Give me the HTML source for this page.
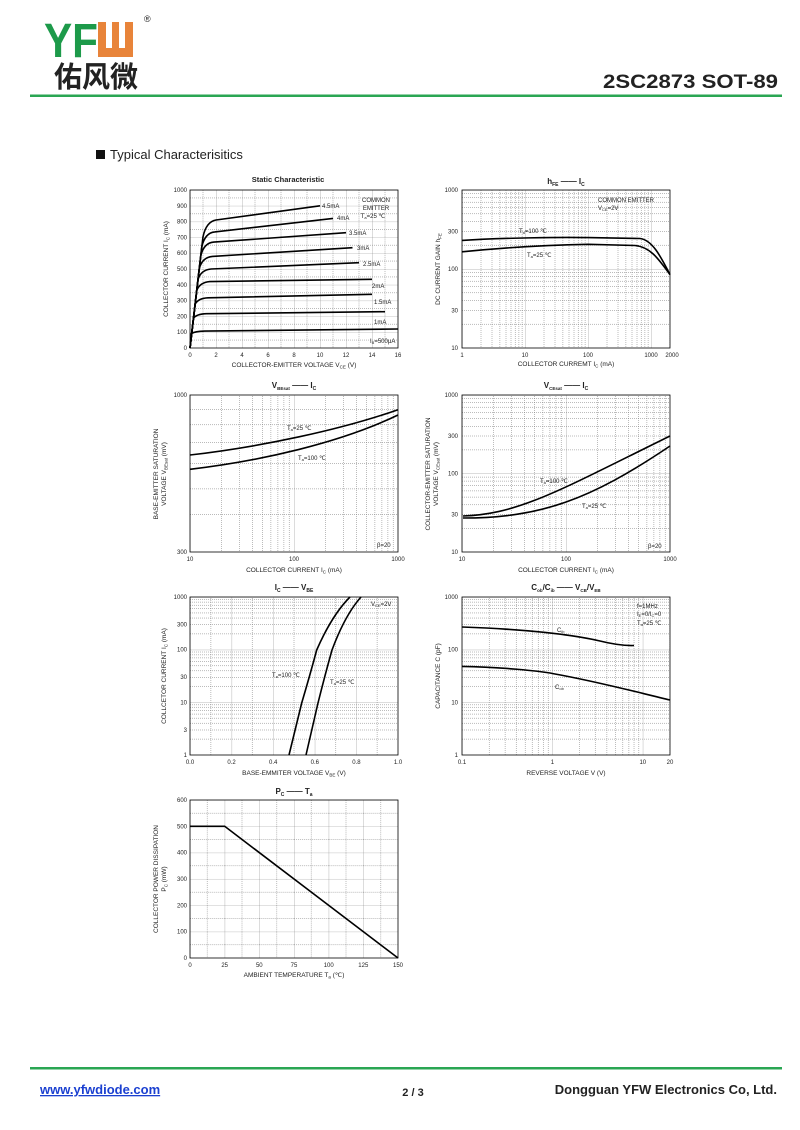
<!DOCTYPE html>
<html><head><meta charset="utf-8"><style>
html,body{margin:0;padding:0;background:#fff;}
svg{display:block;}
text{font-family:"Liberation Sans",Arial,sans-serif;fill:#222;}
.t{font-size:6px;}
.tk{font-size:6px;}
.ax{font-size:6.5px;}
.cv{fill:none;stroke:#000;stroke-width:1.6;}
.bd{fill:none;stroke:#000;stroke-width:0.8;}
.sg{stroke:#888;stroke-width:0.6;}
.dg{stroke:#777;stroke-width:0.5;stroke-dasharray:1,1;}
</style></head><body>
<svg width="800" height="1130" viewBox="0 0 800 1130" xmlns="http://www.w3.org/2000/svg">
<defs>
<pattern id="p1" x="190" y="190" width="26" height="15.8" patternUnits="userSpaceOnUse">
<line x1="0" y1="0" x2="0" y2="15.8" class="sg"/><line x1="13" y1="0" x2="13" y2="15.8" class="dg"/>
<line x1="0" y1="0" x2="26" y2="0" class="sg"/><line x1="0" y1="7.9" x2="26" y2="7.9" class="dg"/>
</pattern>
<pattern id="x63" x="462" y="0" width="63" height="10" patternUnits="userSpaceOnUse">
<line x1="0" y1="0" x2="0" y2="10" class="sg"/>
<g class="dg"><line x1="19" y1="0" x2="19" y2="10"/><line x1="30" y1="0" x2="30" y2="10"/><line x1="37.9" y1="0" x2="37.9" y2="10"/><line x1="44" y1="0" x2="44" y2="10"/><line x1="49" y1="0" x2="49" y2="10"/><line x1="53.2" y1="0" x2="53.2" y2="10"/><line x1="56.9" y1="0" x2="56.9" y2="10"/><line x1="60.1" y1="0" x2="60.1" y2="10"/></g>
</pattern>
<pattern id="x104a" x="190" y="0" width="104" height="10" patternUnits="userSpaceOnUse">
<line x1="0" y1="0" x2="0" y2="10" class="sg"/>
<g class="dg"><line x1="31.3" y1="0" x2="31.3" y2="10"/><line x1="49.6" y1="0" x2="49.6" y2="10"/><line x1="62.6" y1="0" x2="62.6" y2="10"/><line x1="72.7" y1="0" x2="72.7" y2="10"/><line x1="80.9" y1="0" x2="80.9" y2="10"/><line x1="87.9" y1="0" x2="87.9" y2="10"/><line x1="93.9" y1="0" x2="93.9" y2="10"/><line x1="99.2" y1="0" x2="99.2" y2="10"/></g>
</pattern>
<pattern id="x104b" x="462" y="0" width="104" height="10" patternUnits="userSpaceOnUse">
<line x1="0" y1="0" x2="0" y2="10" class="sg"/>
<g class="dg"><line x1="31.3" y1="0" x2="31.3" y2="10"/><line x1="49.6" y1="0" x2="49.6" y2="10"/><line x1="62.6" y1="0" x2="62.6" y2="10"/><line x1="72.7" y1="0" x2="72.7" y2="10"/><line x1="80.9" y1="0" x2="80.9" y2="10"/><line x1="87.9" y1="0" x2="87.9" y2="10"/><line x1="93.9" y1="0" x2="93.9" y2="10"/><line x1="99.2" y1="0" x2="99.2" y2="10"/></g>
</pattern>
<pattern id="x90" x="462" y="0" width="90.4" height="10" patternUnits="userSpaceOnUse">
<line x1="0" y1="0" x2="0" y2="10" class="sg"/>
<g class="dg"><line x1="27.2" y1="0" x2="27.2" y2="10"/><line x1="43.1" y1="0" x2="43.1" y2="10"/><line x1="54.4" y1="0" x2="54.4" y2="10"/><line x1="63.2" y1="0" x2="63.2" y2="10"/><line x1="70.3" y1="0" x2="70.3" y2="10"/><line x1="76.4" y1="0" x2="76.4" y2="10"/><line x1="81.6" y1="0" x2="81.6" y2="10"/><line x1="86.3" y1="0" x2="86.3" y2="10"/></g>
</pattern>
<pattern id="y79" x="0" y="190" width="10" height="79" patternUnits="userSpaceOnUse">
<line x1="0" y1="0" x2="10" y2="0" class="sg"/>
<g class="dg"><line x1="0" y1="3.6" x2="10" y2="3.6"/><line x1="0" y1="7.7" x2="10" y2="7.7"/><line x1="0" y1="12.2" x2="10" y2="12.2"/><line x1="0" y1="17.5" x2="10" y2="17.5"/><line x1="0" y1="23.8" x2="10" y2="23.8"/><line x1="0" y1="31.4" x2="10" y2="31.4"/><line x1="0" y1="41.3" x2="10" y2="41.3"/><line x1="0" y1="55.2" x2="10" y2="55.2"/></g>
</pattern>
<pattern id="y785" x="0" y="395" width="10" height="78.5" patternUnits="userSpaceOnUse">
<line x1="0" y1="0" x2="10" y2="0" class="sg"/>
<g class="dg"><line x1="0" y1="3.6" x2="10" y2="3.6"/><line x1="0" y1="7.6" x2="10" y2="7.6"/><line x1="0" y1="12.2" x2="10" y2="12.2"/><line x1="0" y1="17.4" x2="10" y2="17.4"/><line x1="0" y1="23.6" x2="10" y2="23.6"/><line x1="0" y1="31.3" x2="10" y2="31.3"/><line x1="0" y1="41" x2="10" y2="41"/><line x1="0" y1="54.9" x2="10" y2="54.9"/></g>
</pattern>
<pattern id="y527" x="0" y="597" width="10" height="52.7" patternUnits="userSpaceOnUse">
<line x1="0" y1="0" x2="10" y2="0" class="sg"/>
<g class="dg"><line x1="0" y1="2.4" x2="10" y2="2.4"/><line x1="0" y1="5.1" x2="10" y2="5.1"/><line x1="0" y1="8.2" x2="10" y2="8.2"/><line x1="0" y1="11.7" x2="10" y2="11.7"/><line x1="0" y1="15.9" x2="10" y2="15.9"/><line x1="0" y1="21" x2="10" y2="21"/><line x1="0" y1="27.6" x2="10" y2="27.6"/><line x1="0" y1="36.8" x2="10" y2="36.8"/></g>
</pattern>
<pattern id="x5" x="190" y="0" width="41.6" height="10" patternUnits="userSpaceOnUse">
<line x1="0" y1="0" x2="0" y2="10" class="sg"/><line x1="20.8" y1="0" x2="20.8" y2="10" class="dg"/>
</pattern>
<pattern id="p7" x="190" y="800" width="34.67" height="26.33" patternUnits="userSpaceOnUse">
<line x1="0" y1="0" x2="0" y2="26.33" class="sg"/><line x1="17.33" y1="0" x2="17.33" y2="26.33" class="dg"/>
<line x1="0" y1="0" x2="34.67" y2="0" class="sg"/><line x1="0" y1="13.17" x2="34.67" y2="13.17" class="dg"/>
</pattern>
</defs>

<!-- HEADER -->
<text x="44" y="57" font-size="48" font-weight="bold" style="fill:#1d9a4a" textLength="54" lengthAdjust="spacingAndGlyphs">YF</text>
<rect x="98" y="22" width="35" height="35" fill="#e8843a"/>
<rect x="106" y="22" width="6" height="26" fill="#fff"/>
<rect x="119" y="22" width="6" height="26" fill="#fff"/>
<text x="144" y="22" font-size="9">®</text>
<text x="54" y="87" font-size="29" style="font-family:'Noto Sans CJK SC','WenQuanYi Zen Hei',sans-serif;fill:#222;font-weight:bold" textLength="84" lengthAdjust="spacingAndGlyphs">佑风微</text>
<text x="603" y="88" font-size="19" font-weight="bold" textLength="175" lengthAdjust="spacingAndGlyphs">2SC2873  SOT-89</text>
<rect x="30" y="94.5" width="752" height="2.5" fill="#2aa653"/>
<rect x="96" y="150" width="9" height="9" fill="#111"/>
<text x="110" y="159" font-size="13">Typical  Characterisitics</text>

<!-- CHART 1 -->
<text x="288" y="182" font-size="7.5" font-weight="bold" text-anchor="middle">Static Characteristic</text>
<rect x="190" y="190" width="208" height="158" fill="url(#p1)"/>
<rect x="190" y="190" width="208" height="158" class="bd"/>
<g class="tk" text-anchor="end">
<text x="187" y="350">0</text><text x="187" y="334">100</text><text x="187" y="318.5">200</text><text x="187" y="302.6">300</text><text x="187" y="286.8">400</text><text x="187" y="271">500</text><text x="187" y="255.2">600</text><text x="187" y="239.4">700</text><text x="187" y="223.6">800</text><text x="187" y="207.8">900</text><text x="187" y="192">1000</text>
</g>
<g class="tk" text-anchor="middle">
<text x="190" y="357">0</text><text x="216" y="357">2</text><text x="242" y="357">4</text><text x="268" y="357">6</text><text x="294" y="357">8</text><text x="320" y="357">10</text><text x="346" y="357">12</text><text x="372" y="357">14</text><text x="398" y="357">16</text>
</g>
<text x="294" y="367" class="ax" text-anchor="middle">COLLECTOR-EMITTER VOLTAGE   V<tspan font-size="4.5" dy="1.5">CE</tspan><tspan dy="-1.5">   (V)</tspan></text>
<text transform="translate(168,269) rotate(-90)" class="ax" text-anchor="middle">COLLECTOR CURRENT   I<tspan font-size="4.5" dy="1.5">C</tspan><tspan dy="-1.5">   (mA)</tspan></text>
<g class="cv">
<path d="M190,348 L203,236.8 Q206.3,221.6 216,220 L320,205.8"/>
<path d="M190,348 L201.8,246.6 Q205.1,232.7 214.8,231.9 L333,218.4"/>
<path d="M190,348 L200.8,255.6 Q204,242.9 213.8,242.1 L346,232.7"/>
<path d="M190,348 L199.4,268 Q202.6,257.2 212.4,256.4 L352.5,247.7"/>
<path d="M190,348 L198.1,279.1 Q201.3,269.8 211.1,269 L359,262.7"/>
<path d="M190,348 L196.8,290.3 Q200,282.4 209.8,281.6 L372,279.3"/>
<path d="M190,348 L195.1,304.2 Q198.3,298.2 208.1,297.8 L372,294.3"/>
<path d="M190,348 L193.5,318.1 Q196.8,314 206.5,313.7 L385,311.7"/>
<path d="M190,348 L191.7,333.5 Q194.9,331.4 204.7,331.1 L398,329"/>
</g>
<g class="t" font-size="5.5">
<text x="322" y="208">4.5mA</text><text x="337" y="220">4mA</text><text x="349" y="235">3.5mA</text><text x="357" y="250">3mA</text><text x="363" y="266">2.5mA</text><text x="372" y="288">2mA</text><text x="374" y="304">1.5mA</text><text x="374" y="324">1mA</text><text x="370" y="343">I<tspan font-size="4" dy="1">B</tspan><tspan dy="-1">=500μA</tspan></text>
<text x="376" y="202" text-anchor="middle">COMMON</text><text x="376" y="210" text-anchor="middle">EMITTER</text><text x="373" y="218" text-anchor="middle">T<tspan font-size="4" dy="1">a</tspan><tspan dy="-1">=25 ℃</tspan></text>
</g>

<!-- CHART 2 -->
<text x="566" y="184" font-size="8" font-weight="bold" text-anchor="middle">h<tspan font-size="5" dy="2">FE</tspan><tspan dy="-2">     ——     I</tspan><tspan font-size="5" dy="2">C</tspan></text>
<rect x="462" y="190" width="208" height="158" fill="url(#x63)"/>
<rect x="462" y="190" width="208" height="158" fill="url(#y79)"/>
<rect x="462" y="190" width="208" height="158" class="bd"/>
<g class="tk" text-anchor="end"><text x="458" y="192">1000</text><text x="458" y="233.3">300</text><text x="458" y="271">100</text><text x="458" y="312.3">30</text><text x="458" y="350">10</text></g>
<g class="tk" text-anchor="middle"><text x="462" y="357">1</text><text x="525" y="357">10</text><text x="588" y="357">100</text><text x="651" y="357">1000</text><text x="672" y="357">2000</text></g>
<text x="566" y="366" class="ax" text-anchor="middle">COLLECTOR CURREMT   I<tspan font-size="4.5" dy="1.5">C</tspan><tspan dy="-1.5">   (mA)</tspan></text>
<text transform="translate(440,269) rotate(-90)" class="ax" text-anchor="middle">DC CURRENT GAIN   h<tspan font-size="4.5" dy="1.5">FE</tspan></text>
<path class="cv" d="M462,240.4 C500,238 560,237 588,237.6 L640,238.5 C652,240 660,255 670,274.6"/>
<path class="cv" d="M462,251.8 C500,248 550,245 588,244.3 L635,245.5 C650,247 658,258 670,274.6"/>
<g class="t" font-size="5.5"><text x="598" y="202">COMMON EMITTER</text><text x="598" y="210">V<tspan font-size="4" dy="1">CE</tspan><tspan dy="-1">=2V</tspan></text>
<text x="519" y="233">T<tspan font-size="4" dy="1">a</tspan><tspan dy="-1">=100 ℃</tspan></text><text x="527" y="257">T<tspan font-size="4" dy="1">a</tspan><tspan dy="-1">=25 ℃</tspan></text></g>

<!-- CHART 3 -->
<text x="294" y="388" font-size="8" font-weight="bold" text-anchor="middle">V<tspan font-size="4.5" dy="2">BEsat</tspan><tspan dy="-2">     ——     I</tspan><tspan font-size="5" dy="2">C</tspan></text>
<rect x="190" y="395" width="208" height="157" fill="url(#x104a)"/>
<g class="dg"><line x1="190" y1="409.5" x2="398" y2="409.5"/><line x1="190" y1="424.8" x2="398" y2="424.8"/><line x1="190" y1="442.4" x2="398" y2="442.4"/><line x1="190" y1="463.3" x2="398" y2="463.3"/><line x1="190" y1="488.9" x2="398" y2="488.9"/><line x1="190" y1="514.3" x2="398" y2="514.3"/></g>
<rect x="190" y="395" width="208" height="157" class="bd"/>
<g class="tk" text-anchor="end"><text x="187" y="397">1000</text><text x="187" y="554">300</text></g>
<g class="tk" text-anchor="middle"><text x="190" y="561">10</text><text x="294" y="561">100</text><text x="398" y="561">1000</text></g>
<text x="294" y="572" class="ax" text-anchor="middle">COLLECTOR CURRENT   I<tspan font-size="4.5" dy="1.5">C</tspan><tspan dy="-1.5">   (mA)</tspan></text>
<text transform="translate(158,474) rotate(-90)" class="ax" text-anchor="middle">BASE-EMITTER SATURATION</text>
<text transform="translate(166,474) rotate(-90)" class="ax" text-anchor="middle">VOLTAGE   V<tspan font-size="4.5" dy="1.5">BEsat</tspan><tspan dy="-1.5">   (mV)</tspan></text>
<path class="cv" d="M190,455 C260,447 340,430 398,409.7"/>
<path class="cv" d="M190,469.3 C260,461 340,443 398,415"/>
<g class="t" font-size="5.5"><text x="287" y="430">T<tspan font-size="4" dy="1">a</tspan><tspan dy="-1">=25 ℃</tspan></text><text x="298" y="460">T<tspan font-size="4" dy="1">a</tspan><tspan dy="-1">=100 ℃</tspan></text><text x="377" y="547">β=20</text></g>

<!-- CHART 4 -->
<text x="566" y="388" font-size="8" font-weight="bold" text-anchor="middle">V<tspan font-size="4.5" dy="2">CEsat</tspan><tspan dy="-2">     ——     I</tspan><tspan font-size="5" dy="2">C</tspan></text>
<rect x="462" y="395" width="208" height="157" fill="url(#x104b)"/>
<rect x="462" y="395" width="208" height="157" fill="url(#y785)"/>
<rect x="462" y="395" width="208" height="157" class="bd"/>
<g class="tk" text-anchor="end"><text x="458" y="397">1000</text><text x="458" y="438">300</text><text x="458" y="475.5">100</text><text x="458" y="516.5">30</text><text x="458" y="554">10</text></g>
<g class="tk" text-anchor="middle"><text x="462" y="561">10</text><text x="566" y="561">100</text><text x="670" y="561">1000</text></g>
<text x="566" y="572" class="ax" text-anchor="middle">COLLECTOR CURRENT   I<tspan font-size="4.5" dy="1.5">C</tspan><tspan dy="-1.5">   (mA)</tspan></text>
<text transform="translate(430,474) rotate(-90)" class="ax" text-anchor="middle">COLLECTOR-EMITTER SATURATION</text>
<text transform="translate(438,474) rotate(-90)" class="ax" text-anchor="middle">VOLTAGE   V<tspan font-size="4.5" dy="1.5">CEsat</tspan><tspan dy="-1.5">   (mV)</tspan></text>
<path class="cv" d="M463,516 C520,514 560,490 670,436"/>
<path class="cv" d="M463,518 C540,518 590,500 670,446"/>
<g class="t" font-size="5.5"><text x="540" y="483">T<tspan font-size="4" dy="1">a</tspan><tspan dy="-1">=100 ℃</tspan></text><text x="582" y="508">T<tspan font-size="4" dy="1">a</tspan><tspan dy="-1">=25 ℃</tspan></text><text x="648" y="548">β=20</text></g>

<!-- CHART 5 -->
<text x="294" y="590" font-size="8" font-weight="bold" text-anchor="middle">I<tspan font-size="5" dy="2">C</tspan><tspan dy="-2">     ——     V</tspan><tspan font-size="5" dy="2">BE</tspan></text>
<rect x="190" y="597" width="208" height="158" fill="url(#x5)"/>
<rect x="190" y="597" width="208" height="158" fill="url(#y527)"/>
<rect x="190" y="597" width="208" height="158" class="bd"/>
<g class="tk" text-anchor="end"><text x="187" y="599">1000</text><text x="187" y="626.6">300</text><text x="187" y="651.6">100</text><text x="187" y="679">30</text><text x="187" y="704.3">10</text><text x="187" y="731.9">3</text><text x="187" y="757">1</text></g>
<g class="tk" text-anchor="middle"><text x="190" y="764">0.0</text><text x="231.6" y="764">0.2</text><text x="273.2" y="764">0.4</text><text x="314.8" y="764">0.6</text><text x="356.4" y="764">0.8</text><text x="398" y="764">1.0</text></g>
<text x="294" y="775" class="ax" text-anchor="middle">BASE-EMMITER VOLTAGE   V<tspan font-size="4.5" dy="1.5">BE</tspan><tspan dy="-1.5">   (V)</tspan></text>
<text transform="translate(166,676) rotate(-90)" class="ax" text-anchor="middle">COLLCETOR CURRENT   I<tspan font-size="4.5" dy="1.5">C</tspan><tspan dy="-1.5">   (mA)</tspan></text>
<path class="cv" d="M289,755 L301.7,703 Q310,675 316.7,650 Q332,615 350,597"/>
<path class="cv" d="M306,755 L318,703 Q325,675 332,650 Q345,615 361,597"/>
<g class="t" font-size="5.5"><text x="272" y="677">T<tspan font-size="4" dy="1">a</tspan><tspan dy="-1">=100 ℃</tspan></text><text x="330" y="684">T<tspan font-size="4" dy="1">a</tspan><tspan dy="-1">=25 ℃</tspan></text><text x="371" y="606">V<tspan font-size="4" dy="1">CE</tspan><tspan dy="-1">=2V</tspan></text></g>

<!-- CHART 6 -->
<text x="566" y="590" font-size="8" font-weight="bold" text-anchor="middle">C<tspan font-size="4.5" dy="2">ob</tspan><tspan dy="-2">/C</tspan><tspan font-size="4.5" dy="2">ib</tspan><tspan dy="-2">     ——     V</tspan><tspan font-size="4.5" dy="2">CB</tspan><tspan dy="-2">/V</tspan><tspan font-size="4.5" dy="2">EB</tspan></text>
<rect x="462" y="597" width="208" height="158" fill="url(#x90)"/>
<rect x="462" y="597" width="208" height="158" fill="url(#y527)"/>
<rect x="462" y="597" width="208" height="158" class="bd"/>
<g class="tk" text-anchor="end"><text x="458" y="599">1000</text><text x="458" y="651.6">100</text><text x="458" y="704.3">10</text><text x="458" y="757">1</text></g>
<g class="tk" text-anchor="middle"><text x="462" y="764">0.1</text><text x="552.4" y="764">1</text><text x="642.8" y="764">10</text><text x="670" y="764">20</text></g>
<text x="566" y="775" class="ax" text-anchor="middle">REVERSE  VOLTAGE   V   (V)</text>
<text transform="translate(440,676) rotate(-90)" class="ax" text-anchor="middle">CAPACITANCE   C   (pF)</text>
<path class="cv" d="M462,627 C520,629 570,634 600,641 Q620,646 634,645.5"/>
<path class="cv" d="M462,666.4 C500,667 540,671 553,673.6 C600,682 640,693 670,700"/>
<g class="t" font-size="5.5"><text x="557" y="632">C<tspan font-size="4" dy="1">ib</tspan></text><text x="555" y="689">C<tspan font-size="4" dy="1">ob</tspan></text>
<text x="637" y="608">f=1MHz</text><text x="637" y="616">I<tspan font-size="4" dy="1">E</tspan><tspan dy="-1">=0/I</tspan><tspan font-size="4" dy="1">C</tspan><tspan dy="-1">=0</tspan></text><text x="637" y="625">T<tspan font-size="4" dy="1">a</tspan><tspan dy="-1">=25 ℃</tspan></text></g>

<!-- CHART 7 -->
<text x="294" y="794" font-size="8" font-weight="bold" text-anchor="middle">P<tspan font-size="5" dy="2">C</tspan><tspan dy="-2">     ——     T</tspan><tspan font-size="5" dy="2">a</tspan></text>
<rect x="190" y="800" width="208" height="158" fill="url(#p7)"/>
<rect x="190" y="800" width="208" height="158" class="bd"/>
<g class="tk" text-anchor="end"><text x="187" y="802">600</text><text x="187" y="828.3">500</text><text x="187" y="854.7">400</text><text x="187" y="881">300</text><text x="187" y="907.3">200</text><text x="187" y="933.7">100</text><text x="187" y="960">0</text></g>
<g class="tk" text-anchor="middle"><text x="190" y="967">0</text><text x="224.7" y="967">25</text><text x="259.3" y="967">50</text><text x="294" y="967">75</text><text x="328.7" y="967">100</text><text x="363.3" y="967">125</text><text x="398" y="967">150</text></g>
<text x="294" y="977" class="ax" text-anchor="middle">AMBIENT TEMPERATURE   T<tspan font-size="4.5" dy="1.5">a</tspan><tspan dy="-1.5">   (℃)</tspan></text>
<text transform="translate(158,879) rotate(-90)" class="ax" text-anchor="middle">COLLECTOR POWER DISSIPATION</text>
<text transform="translate(166,879) rotate(-90)" class="ax" text-anchor="middle">P<tspan font-size="4.5" dy="1.5">C</tspan><tspan dy="-1.5">   (mW)</tspan></text>
<path class="cv" d="M190,826.3 L224.7,826.3 L398,958"/>

<!-- FOOTER -->
<rect x="30" y="1067" width="752" height="2.5" fill="#2aa653"/>
<text x="40" y="1094" font-size="13" font-weight="bold" style="fill:#1a3fd0" text-decoration="underline">www.yfwdiode.com</text>
<text x="413" y="1096" font-size="11" font-weight="bold" text-anchor="middle">2 / 3</text>
<text x="777" y="1094" font-size="13" font-weight="bold" text-anchor="end">Dongguan YFW Electronics Co, Ltd.</text>
</svg>
</body></html>
